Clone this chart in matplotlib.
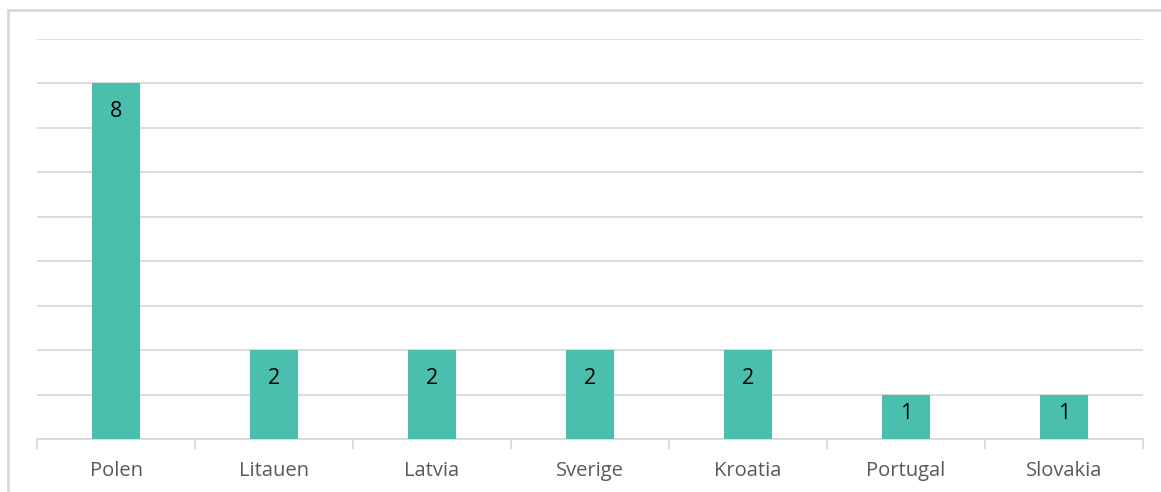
import matplotlib.pyplot as plt
from matplotlib.patches import Rectangle

countries = ["Polen", "Litauen", "Latvia", "Sverige", "Kroatia", "Portugal", "Slovakia"]
counts = [8, 2, 2, 2, 2, 1, 1]

plt.rcParams['font.family'] = ['Open Sans', 'DejaVu Sans']

fig = plt.figure(figsize=(11.61, 4.92), dpi=100)
ax = fig.add_axes([37 / 1161, 1 - 439 / 492, (1143 - 37) / 1161, (439 - 39) / 492])

# outer chart border (right/bottom edges fall off the image)
fig.patches.append(Rectangle((8 / 1161, -0.1), 1.2, 1 - 10 / 492 + 0.1,
                             transform=fig.transFigure, fill=False,
                             edgecolor='#d9d9d9', linewidth=2))

x = range(len(countries))
bars = ax.bar(x, counts, width=0.31, color='#4bbfad', zorder=3)

ax.set_xlim(-0.5, len(countries) - 0.5)
ax.set_ylim(0, 9)
ax.set_yticks(range(0, 10))
ax.yaxis.grid(True, color='#d9d9d9', linewidth=1.3, zorder=0)
ax.tick_params(axis='y', left=False, labelleft=False)

for s in ['top', 'right', 'left']:
    ax.spines[s].set_visible(False)
ax.spines['bottom'].set_color('#d9d9d9')
ax.spines['bottom'].set_linewidth(1.3)

ax.set_xticks([i - 0.5 for i in range(len(countries) + 1)])
ax.set_xticklabels([])
ax.set_xticks(list(x), minor=True)
ax.set_xticklabels(countries, minor=True, fontsize=14.5, color='#595959')
ax.tick_params(axis='x', which='major', length=7, color='#d9d9d9', width=1.3)
ax.tick_params(axis='x', which='minor', length=0, pad=16)

px_per_unit = 400 / 9
for b, v in zip(bars, counts):
    off = min(28, 0.42 * v * px_per_unit)
    ax.annotate(str(v), (b.get_x() + b.get_width() / 2, v), xytext=(0, -off),
                textcoords='offset pixels',
                ha='center', va='center', fontsize=15.5, color='black', zorder=4)

fig.savefig("out.png", dpi=100)
